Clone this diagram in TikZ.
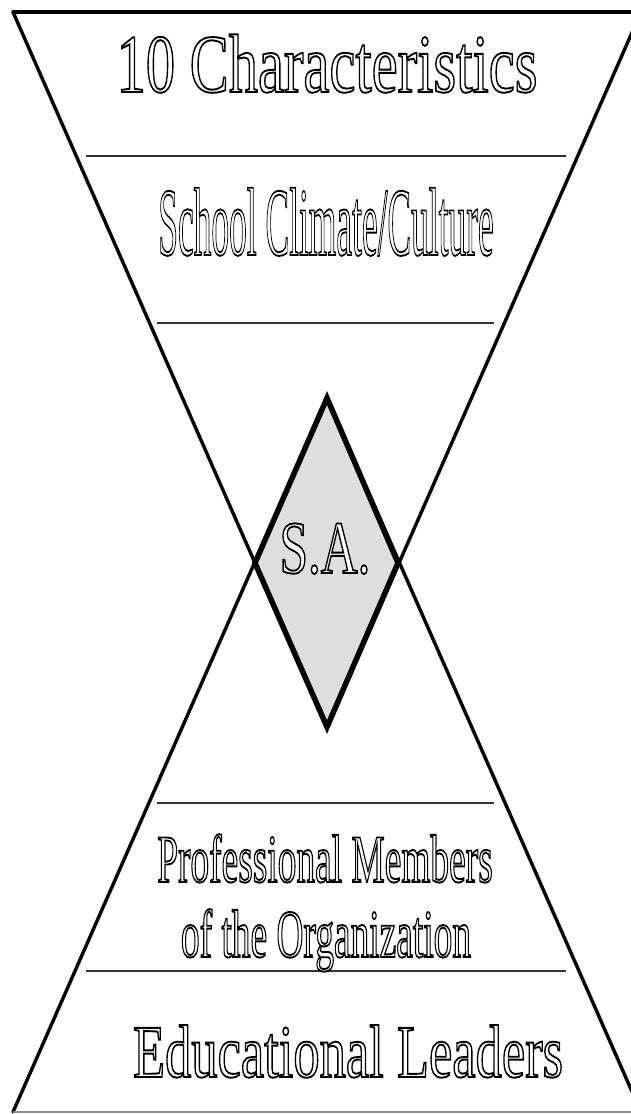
\documentclass[tikz,border=0pt]{standalone}
\usepackage{fontspec}
\setmainfont{Liberation Serif}
\usepackage{graphicx}
\usetikzlibrary{calc}
% outlined (hollow) letters: white fill, black stroke
\newcommand{\hollow}[1]{\special{pdf:literal direct 2 Tr 1.9 w 0 G}#1\special{pdf:literal direct 0 Tr}}

\begin{document}
\begin{tikzpicture}[
    x=1pt, y=-1pt,
    side/.style={line width=3.4pt, line cap=round},
    divider/.style={line width=1.6pt, black!80},
    core/.style={draw, line width=5.5pt, line join=miter, fill=black!13},
    bandtext/.style={anchor=base, inner sep=0pt, text=white},
]
\useasboundingbox (0,0) rectangle (631,1114);
\clip (0,0) rectangle (631,1114);

% ---------------- two overlapping triangles ----------------------------
\coordinate (tl)   at (13,12);
\coordinate (tr)   at (641,12);
\coordinate (bl)   at (13,1112);
\coordinate (br)   at (641,1112);
\coordinate (tip)  at (327,727);
\coordinate (peak) at (327,398);

\draw[side] (tl) -- (tr);
\draw[side] (tl) -- (tip) -- (tr);
\draw[side] (bl) -- (peak) -- (br);
\draw[line width=1.5pt, black!45] (bl) -- (br);

% ---------------- band dividers ------------------------------------------
\draw[divider] (86,156) -- (566,156);
\draw[divider] (157,323) -- (494,323);
\draw[divider] (157,803) -- (494,803);
\draw[divider] (86,971) -- (566,971);

% ---------------- shared centre (overlap) --------------------------------
\draw[core] (peak) -- (398,563) -- (tip) -- (255,563) -- cycle;

% ---------------- texts ---------------------------------------------------
\node[bandtext, font=\fontsize{83}{90}\selectfont] (chars) at (327,92)
    {\scalebox{0.705}[1]{\hollow{10 Characteristics}}};
\node[bandtext, font=\fontsize{97}{100}\selectfont] (climate) at (326,255)
    {\scalebox{0.365}[1]{\hollow{School Climate/Culture}}};
\node[bandtext, font=\fontsize{75}{80}\selectfont] (sa) at (325,573)
    {\scalebox{0.68}[1]{\hollow{S.A.}}};
\node[bandtext, font=\fontsize{68}{70}\selectfont] (members) at (325,882)
    {\scalebox{0.55}[1]{\hollow{Professional Members}}};
\node[bandtext, font=\fontsize{68}{70}\selectfont] (organization) at (326,957)
    {\scalebox{0.55}[1]{\hollow{of the Organization}}};
\node[bandtext, font=\fontsize{75}{80}\selectfont] (leaders) at (348,1077)
    {\scalebox{0.70}[1]{\hollow{Educational Leaders}}};

\end{tikzpicture}
\end{document}
